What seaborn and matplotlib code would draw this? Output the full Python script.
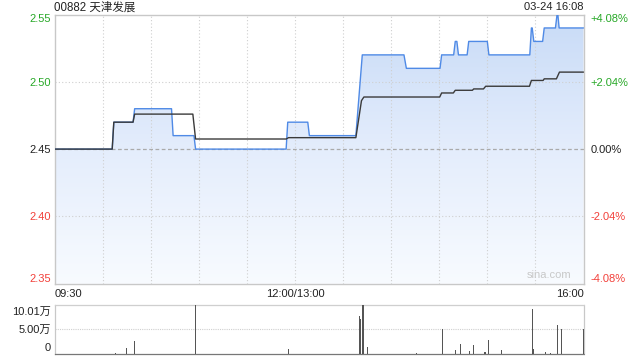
import numpy as np
import pandas as pd
import matplotlib
matplotlib.use("Agg")
import matplotlib.pyplot as plt
import seaborn as sns
from matplotlib.colors import LinearSegmentedColormap
import matplotlib.transforms as mtransforms

# ---------------- data ----------------
title = "00882 天津发展"
timestamp = "03-24 16:08"
prev_close = 2.45
price_ticks = [2.55, 2.50, 2.45, 2.40, 2.35]
price_tick_labels = ["2.55", "2.50", "2.45", "2.40", "2.35"]
pct_labels = ["+4.08%", "+2.04%", "0.00%", "-2.04%", "-4.08%"]
time_labels = ["09:30", "12:00/13:00", "16:00"]
time_label_min = [0, 150, 330]

# minutes since 09:30 (lunch break removed), price breakpoints
price_t = [0, 36, 37, 49, 50, 73, 74, 87, 88, 144.5, 145.5, 158, 159, 188, 192,
           218, 219.5, 240.5, 241.5, 249, 250, 251, 252, 257.4, 258.4, 270, 271,
           296.5, 297.5, 298, 299, 304.5, 305.5, 312.5, 313.5, 314, 314.8, 330]
price_v = [2.45, 2.45, 2.47, 2.47, 2.48, 2.48, 2.46, 2.46, 2.45, 2.45, 2.47, 2.47, 2.46, 2.46, 2.52,
           2.52, 2.51, 2.51, 2.52, 2.52, 2.53, 2.53, 2.52, 2.52, 2.53, 2.53, 2.52,
           2.52, 2.54, 2.54, 2.53, 2.53, 2.54, 2.54, 2.55, 2.55, 2.54, 2.54]

avg_t = [0, 36, 37, 49, 50, 86.3, 88, 144.5, 146, 188, 191.5, 193, 240.3, 241.5,
         248.8, 250, 260.7, 261.5, 267.6, 269, 296.3, 297.5, 304.8, 305.5, 313.1, 315, 330]
avg_v = [2.45, 2.45, 2.47, 2.47, 2.476, 2.476, 2.4575, 2.4575, 2.4585, 2.4585, 2.486, 2.4887, 2.4887, 2.4917,
         2.4917, 2.4937, 2.4937, 2.4947, 2.4947, 2.4967, 2.4967, 2.501, 2.501, 2.5022, 2.5022, 2.5072, 2.5072]

vol_t = [38, 45, 50, 88, 97, 146, 190, 191, 192, 193, 195, 226, 242, 250, 253, 259, 261.5,
         268, 269, 271, 279, 298, 299, 306, 309.5, 314, 316, 330]
vol_v = [0.2, 1.3, 2.7, 10.01, 0.8, 1.0, 7.8, 7.1, 10.01, 10.01, 1.5, 0.2, 5.0, 0.8, 2.0, 0.6, 1.8,
         0.4, 0.4, 2.8, 0.8, 9.1, 1.0, 0.4, 0.3, 6.0, 5.0, 5.0]  # 万
vol_tick_vals = [10.01, 5.0, 0]
vol_tick_labels = ["10.01万", "5.00万", "0"]

# ---------------- style ----------------
sns.set_style("white")
plt.rcParams["font.family"] = ["Liberation Sans", "Noto Sans CJK SC", "DejaVu Sans"]

GREEN = "#27a827"
RED = "#f2403a"
BORDER = "#c8c8c8"
GRID = "#cfcfcf"
LINE = "#4f8ae6"
AVG = "#3a3a3a"

fig = plt.figure(figsize=(6.4, 3.6), dpi=100)
W, H = 640.0, 360.0
x0, x1 = 54.5, 583.5
ax = fig.add_axes([x0 / W, (H - 283.7) / H, (x1 - x0) / W, (283.7 - 14.5) / H])
axv = fig.add_axes([x0 / W, (H - 354.3) / H, (x1 - x0) / W, (354.3 - 304.6) / H])

# ---------------- price chart ----------------
price_df = pd.DataFrame({"t": price_t, "p": price_v})
avg_df = pd.DataFrame({"t": avg_t, "p": avg_v})

poly = ax.fill_between(price_df["t"], price_df["p"], 2.35, color="none", linewidth=0)
grad = np.linspace(0, 1, 256).reshape(-1, 1)
cmap = LinearSegmentedColormap.from_list("g", ["#f8fbff", "#e4edfc", "#c8dbf7"])
im = ax.imshow(grad, extent=[0, 330, 2.35, 2.55], origin="lower", aspect="auto",
               cmap=cmap, zorder=1)
im.set_clip_path(poly.get_paths()[0], transform=ax.transData)

for m in range(30, 330, 30):
    ax.axvline(m, color=GRID, lw=0.8, ls=(0, (1, 2)), zorder=2)
for yv in [2.50, 2.40]:
    ax.axhline(yv, color=GRID, lw=0.8, ls=(0, (1, 2)), zorder=2)
ax.axhline(prev_close, color="#aaaaaa", lw=0.9, ls=(0, (3, 2)), zorder=2)

sns.lineplot(data=price_df, x="t", y="p", ax=ax, color=LINE, lw=1.0,
             estimator=None, sort=False, zorder=4)
sns.lineplot(data=avg_df, x="t", y="p", ax=ax, color=AVG, lw=1.0,
             estimator=None, sort=False, zorder=5)

ax.set_xlim(0, 330)
ax.set_ylim(2.35, 2.55)
ax.set_xlabel("")
ax.set_ylabel("")
for s in ax.spines.values():
    s.set_color(BORDER)
    s.set_linewidth(1.0)

ax.set_yticks(price_ticks)
ax.set_yticklabels(price_tick_labels)
ax.tick_params(axis="y", length=0, pad=2.8, labelsize=8)
ylabs = ax.get_yticklabels()
for lab, v in zip(ylabs, price_ticks):
    lab.set_color(GREEN if v > prev_close + 1e-9 else (RED if v < prev_close - 1e-9 else "#222222"))
ylabs[0].set_va("top")
ylabs[-1].set_va("bottom")

ax.set_xticks(time_label_min)
ax.set_xticklabels(time_labels)
ax.tick_params(axis="x", length=0, pad=3.5, labelsize=8, labelcolor="#222222")
xl = ax.get_xticklabels()
xl[0].set_ha("left")
xl[-1].set_ha("right")

axr = ax.twinx()
axr.set_ylim(2.35, 2.55)
axr.set_yticks(price_ticks)
axr.set_yticklabels(pct_labels)
axr.tick_params(axis="y", length=0, pad=4.8, labelsize=8)
rl = axr.get_yticklabels()
for lab, v in zip(rl, price_ticks):
    lab.set_color(GREEN if v > prev_close + 1e-9 else (RED if v < prev_close - 1e-9 else "#222222"))
rl[0].set_va("top")
rl[-1].set_va("bottom")
for s in axr.spines.values():
    s.set_visible(False)

ax.text(0.935, 0.012, "sina.com", transform=ax.transAxes, ha="center", va="bottom",
        color="#c8c8c8", fontsize=8, zorder=6)

fig.text(x0 / W, 1 - 7.5 / H, title, ha="left", va="center", fontsize=8.3, color="#222222")
fig.text(x1 / W, 1 - 7.5 / H, timestamp, ha="right", va="center", fontsize=8, color="#222222")

# ---------------- volume chart ----------------
vol_df = pd.DataFrame({"t": vol_t, "v": [v * 10000 for v in vol_v]})
axv.bar(vol_df["t"], vol_df["v"], width=0.6, color="#555555", linewidth=0, zorder=3)
axv.axhline(50000, color=GRID, lw=0.8, ls=(0, (1, 1)), zorder=1)
axv.set_xlim(0, 330)
axv.set_ylim(0, 100100)
axv.set_xticks([])
axv.set_yticks([])
blend = mtransforms.blended_transform_factory(axv.transAxes, axv.transData)
vol_offsets_px = [-7.0, 0.0, 6.5]
for val, lab, off in zip(vol_tick_vals, vol_tick_labels, vol_offsets_px):
    tr = blend + mtransforms.ScaledTranslation(-3.5 / 100, off / 100, fig.dpi_scale_trans)
    axv.text(0, val * 10000, lab, transform=tr, ha="right", va="center",
             fontsize=8, color="#222222")
axv.spines["left"].set_color(BORDER)
axv.spines["right"].set_color(BORDER)
axv.spines["top"].set_color(GRID)
axv.spines["top"].set_linestyle((0, (1, 1)))
axv.spines["bottom"].set_color("#777777")
axv.spines["bottom"].set_linestyle((0, (1, 1)))
for s in axv.spines.values():
    s.set_linewidth(0.9)
axv.set_facecolor("white")

fig.savefig("out.png", dpi=100)
